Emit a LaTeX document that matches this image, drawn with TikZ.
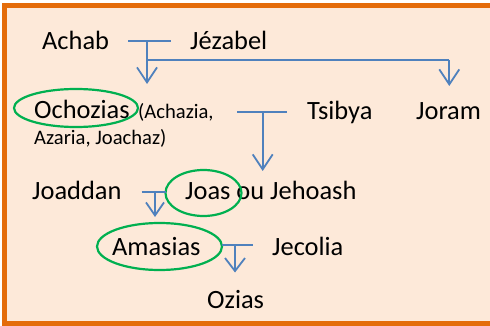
\documentclass[tikz,border=0pt]{standalone}
\usepackage{fontspec}
\setmainfont{Carlito}
\usetikzlibrary{arrows.meta,shapes.geometric}
\definecolor{frameorange}{HTML}{E46C0A}
\definecolor{bgpeach}{HTML}{FDE9D9}
\definecolor{lineblue}{HTML}{4F81BD}
\definecolor{ellgreen}{HTML}{00B050}
\tikzset{
  person/.style={anchor=base west, inner sep=0pt, font=\fontsize{26.4}{30}\selectfont},
  smalltxt/.style={anchor=base west, inner sep=0pt, font=\fontsize{20.6}{24}\selectfont},
  link/.style={draw=lineblue, line width=1.8pt},
  child/.style={draw=lineblue, line width=1.8pt, -{Straight Barb[length=15pt,width=20pt]}},
  ring/.style={draw=ellgreen, line width=2.2pt, ellipse, inner sep=0pt}
}
\begin{document}
\begin{tikzpicture}[x=1pt,y=-1pt]
\useasboundingbox (0,0) rectangle (490,326);
\fill[white] (0,0) rectangle (490,326);
\draw[frameorange, fill=bgpeach, line width=4.6pt] (4.2,5.5) rectangle (500,323.6);
% names
\node[person] (achab) at (42,50) {Achab};
\node[person] (jezabel) at (190,50) {Jézabel};
\node[person] (ochozias) at (34,119) {Ochozias};
\node[smalltxt] (ochalt1) at (138,119) {(Achazia,};
\node[smalltxt] (ochalt2) at (34,145) {Azaria, Joachaz)};
\node[person] (tsibya) at (307,120) {Tsibya};
\node[person] (joram) at (416,120) {Joram};
\node[person] (joaddan) at (32,200) {Joaddan};
\node[person] (joas) at (185,200) {Joas ou Jehoash};
\node[person] (amasias) at (112,255) {Amasias};
\node[person] (jecolia) at (272,255) {Jecolia};
\node[person] (ozias) at (207,308) {Ozias};
% green rings
\node[ring, minimum width=124pt, minimum height=38pt] (r1) at (76,108) {};
\node[ring, minimum width=76pt, minimum height=46pt] (r2) at (203.5,193) {};
\node[ring, minimum width=125pt, minimum height=47pt] (r3) at (159.5,246.5) {};
% couple 1: Achab - Jezabel
\coordinate (c1l) at (128,41);
\coordinate (c1r) at (171,41);
\coordinate (c1m) at (147,41);
\coordinate (c1b) at (147,60);
\coordinate (c1t) at (147,84);
\coordinate (c1j) at (449.3,60);
\coordinate (c1jt) at (449.3,86);
\draw[link] (c1l) -- (c1r);
\draw[child] (c1m) -- (c1t);
\draw[link] (c1b) -- (c1j);
\draw[child] (c1j) -- (c1jt);
% couple 2: Ochozias - Tsibya
\coordinate (c2l) at (237,112);
\coordinate (c2r) at (287,112);
\coordinate (c2m) at (262.7,112);
\coordinate (c2t) at (262.7,171);
\draw[link] (c2l) -- (c2r);
\draw[child] (c2m) -- (c2t);
% couple 3: Joaddan - Joas
\coordinate (c3l) at (141.7,192.3);
\coordinate (c3r) at (166,192.3);
\coordinate (c3m) at (155,192.3);
\coordinate (c3t) at (155,217);
\draw[link] (c3l) -- (c3r);
\draw[child, -{Straight Barb[length=13pt,width=18pt]}] (c3m) -- (c3t);
% couple 4: Amasias - Jecolia
\coordinate (c4l) at (221.7,245);
\coordinate (c4r) at (252.7,245);
\coordinate (c4m) at (235,245);
\coordinate (c4t) at (235,272.5);
\draw[link] (c4l) -- (c4r);
\draw[child, -{Straight Barb[length=13pt,width=20pt]}] (c4m) -- (c4t);
\end{tikzpicture}
\end{document}
